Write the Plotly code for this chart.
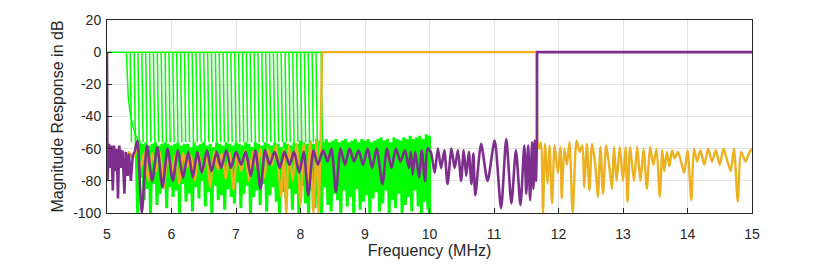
import numpy as np
import plotly.graph_objects as go

# ---------------- data ----------------
x_ticks = [5, 6, 7, 8, 9, 10, 11, 12, 13, 14, 15]
y_ticks = [-100, -80, -60, -40, -20, 0, 20]

# green filter bank: cutoff frequencies (MHz)
green_cutoffs = [5.30, 5.36, 5.42, 5.48, 5.54, 5.60, 5.66, 5.72, 5.78, 5.84,
                 5.90, 5.96, 6.02, 6.08, 6.14, 6.20, 6.26, 6.32, 6.38, 6.44,
                 6.50, 6.56, 6.62, 6.68, 6.74, 6.80, 6.86, 6.92, 6.98, 7.04,
                 7.10, 7.16, 7.22, 7.28, 7.34, 7.40, 7.46, 7.52, 7.58, 7.64,
                 7.70, 7.76, 7.82, 7.88, 7.94, 8.00, 8.06, 8.12, 8.18, 8.24, 8.32]
# first filter's transition tail
green_tail_f = [5.30, 5.31, 5.33, 5.36, 5.40, 5.44, 5.49]
green_tail_db = [0, -15, -28, -38, -46, -51, -56]

# green stop band: upper samples (5.45..10.0 step 0.05) and lower samples in between
green_sb_start, green_sb_stop = 5.45, 10.0
green_top_db = [-56, -55, -57, -56, -58, -57, -56, -58, -57, -56, -57, -58,
                -57, -56, -58, -57, -57, -59, -56, -58, -57, -56, -58, -57, -59, -56, -57, -58, -56, -57, -58, -56,
                -57, -58, -56, -57, -59, -56, -57, -58, -56, -57, -58, -56, -57, -59, -56, -57, -58, -56, -57, -55,
                -56, -57, -55, -57, -54, -55, -56, -54, -56, -55, -54, -56, -55, -54, -56, -55, -54, -56, -54, -55,
                -54, -56, -55, -54, -53, -55, -54, -56, -53, -54, -55, -53, -54, -52, -54, -53, -52, -54, -51, -52]
green_bot_db = [-100, -78, -92, -85, -100, -82, -95, -88, -80, -97, -84, -90,
                -86, -100, -82, -93, -88, -99, -84, -91, -80, -96, -87, -100, -83, -92, -89, -98, -85, -90, -94, -81,
                -97, -88, -83, -100, -90, -86, -95, -82, -99, -89, -84, -93, -100, -87, -91, -85, -98, -88, -100, -83,
                -94, -100, -86, -97, -90, -100, -84, -95, -99, -88, -92, -100, -86, -96, -90, -100, -85, -98, -93, -89,
                -100, -91, -87, -99, -94, -86, -100, -92, -97, -88, -100, -95, -90, -99, -86, -96, -100, -93, -98]

# orange (band-pass 8.33..11.67 MHz)
orange_lo_f = [5.00, 5.05, 5.10, 5.16, 5.22, 5.28, 5.34, 5.40, 5.46, 5.52, 5.58, 5.64, 5.70, 5.76,
               5.82, 5.88, 5.94, 6.00, 6.06, 6.12, 6.18, 6.24, 6.30, 6.36, 6.42, 6.48, 6.54, 6.60,
               6.66, 6.72, 6.78, 6.84, 6.90, 6.96, 7.02, 7.08, 7.14, 7.20, 7.26, 7.32, 7.38, 7.44,
               7.50, 7.56, 7.62, 7.70, 7.74, 7.78, 7.82, 7.88, 7.94, 8.00, 8.05, 8.10, 8.15, 8.20,
               8.25, 8.28, 8.31]
orange_lo_db = [-62, -66, -60, -68, -61, -70, -62, -66, -60, -72, -62, -80, -63, -74,
                -62, -85, -63, -76, -64, -82, -63, -72, -64, -80, -63, -75, -64, -84,
                -62, -73, -63, -79, -62, -86, -63, -74, -61, -80, -62, -72, -60, -78,
                -60, -70, -58, -90, -60, -100, -58, -80, -57, -95, -57, -85, -56, -100,
                -55, -100, -56]
orange_pass_f = [8.31, 8.335, 11.66, 11.67]
orange_pass_db = [-56, 0, 0, -55]
orange_hi_f = [11.67, 11.70, 11.73, 11.76, 11.79, 11.83, 11.86, 11.90, 11.94, 11.99, 12.03, 12.05,
               12.09, 12.13, 12.17, 12.22, 12.28, 12.33, 12.37, 12.40, 12.44, 12.48, 12.52, 12.57,
               12.61, 12.65, 12.69, 12.74, 12.79, 12.83, 12.86, 12.90, 12.95, 13.00, 13.04, 13.07,
               13.11, 13.17, 13.22, 13.27, 13.32, 13.37, 13.42, 13.47, 13.52, 13.57, 13.61, 13.64,
               13.68, 13.72, 13.76, 13.80, 13.85, 13.90, 13.95, 14.00, 14.06, 14.10, 14.15, 14.20,
               14.26, 14.32, 14.38, 14.44, 14.50, 14.56, 14.62, 14.67, 14.72, 14.78, 14.83, 14.90,
               14.95, 15.00]
orange_hi_db = [-55, -60, -56, -100, -57, -82, -58, -94, -58, -75, -59, -91,
                -60, -70, -56, -100, -55, -62, -58, -84, -57, -86, -57, -70,
                -90, -59, -88, -58, -72, -85, -59, -80, -59, -80, -59, -93,
                -59, -80, -59, -80, -60, -85, -59, -70, -60, -90, -61, -74,
                -62, -71, -61, -66, -62, -68, -75, -61, -92, -60, -68, -61,
                -70, -60, -68, -61, -70, -60, -68, -74, -60, -93, -62, -68,
                -63, -60]

# purple (high-pass from 11.67 MHz)
purple_edge_f = [5.000, 5.008, 5.03, 5.05, 5.07, 5.09, 5.11, 5.13, 5.15, 5.17, 5.19, 5.22, 5.24,
                 5.27, 5.29, 5.32, 5.34, 5.37, 5.40, 5.43]
purple_edge_db = [0, -80, -57, -72, -58, -86, -58, -74, -60, -91, -58, -72, -61,
                  -88, -62, -77, -63, -80, -64, -62]
purple_sb_f = [5.43, 5.47, 5.54, 5.62, 5.70, 5.78, 5.86, 5.94, 6.02, 6.10, 6.18, 6.26, 6.33, 6.40,
               6.47, 6.55, 6.62, 6.70, 6.77, 6.85, 6.92, 7.00, 7.08, 7.15, 7.23, 7.30, 7.38, 7.45,
               7.52, 7.60, 7.68, 7.75, 7.83, 7.90, 7.98, 8.05, 8.12, 8.20, 8.27, 8.35, 8.42, 8.48,
               8.55, 8.62, 8.69, 8.76, 8.83, 8.90, 8.97, 9.04, 9.11, 9.18, 9.27, 9.34, 9.41, 9.48,
               9.55, 9.62, 9.68, 9.71, 9.74, 9.78, 9.84, 9.88, 9.93, 9.97, 10.02, 10.08, 10.13,
               10.18, 10.23, 10.28, 10.34, 10.39, 10.44, 10.49, 10.53, 10.57, 10.61, 10.65, 10.68,
               10.71, 10.80, 10.90, 11.01, 11.11, 11.19, 11.27, 11.34, 11.41, 11.47, 11.50, 11.53,
               11.56, 11.59, 11.61, 11.63, 11.65, 11.665]
purple_sb_db = [-62, -55, -100, -58, -80, -59, -84, -60, -80, -61, -78, -62, -78, -62,
                -75, -61, -74, -62, -72, -61, -72, -62, -70, -62, -77, -61, -85, -61,
                -70, -62, -72, -62, -70, -62, -75, -62, -89, -61, -70, -61, -68, -60,
                -87, -60, -70, -60, -68, -61, -70, -60, -72, -60, -82, -60, -72, -60,
                -68, -61, -72, -62, -76, -62, -78, -61, -80, -60, -62, -75, -60,
                -72, -61, -82, -60, -72, -61, -80, -61, -77, -62, -82, -63,
                -89, -57, -80, -55, -97, -54, -94, -61, -95, -58, -88, -58,
                -92, -56, -85, -55, -80, -54]
purple_pass_f = [11.665, 11.668, 15.0]
purple_pass_db = [-54, 0, 0]

# ---------------- build traces ----------------
GREEN = "#00FF00"
ORANGE = "#EDB120"
PURPLE = "#7E2F8E"

# green passband lines
gx, gy = [5.0, green_cutoffs[-1]], [0, 0]
gx += [None] + green_tail_f
gy += [None] + green_tail_db
for c in green_cutoffs[1:]:
    gx += [None, c, c + 0.006, c + 0.02]
    gy += [None, 0, -40, -56]

# green stopband zig-zag (upper and lower samples interleaved)
n_top = len(green_top_db)
top_f = np.linspace(green_sb_start, green_sb_stop, n_top)
bot_f = top_f[:-1] + (top_f[1] - top_f[0]) / 2
sbx, sby = [], []
for i in range(n_top):
    sbx.append(float(top_f[i])); sby.append(green_top_db[i])
    if i < len(green_bot_db):
        sbx.append(float(bot_f[i])); sby.append(green_bot_db[i])
sbx.append(green_sb_stop); sby.append(-100)

fig = go.Figure()
fig.add_trace(go.Scatter(x=sbx, y=sby, mode="lines",
                         line=dict(color=GREEN, width=3), hoverinfo="skip"))
fig.add_trace(go.Scatter(x=gx, y=gy, mode="lines",
                         line=dict(color=GREEN, width=1.5), hoverinfo="skip"))

fig.add_trace(go.Scatter(x=orange_lo_f, y=orange_lo_db, mode="lines",
                         line=dict(color=ORANGE, width=2.4, shape="spline", smoothing=0.7)))
fig.add_trace(go.Scatter(x=orange_pass_f, y=orange_pass_db, mode="lines",
                         line=dict(color=ORANGE, width=2.4)))
fig.add_trace(go.Scatter(x=orange_hi_f, y=orange_hi_db, mode="lines",
                         line=dict(color=ORANGE, width=2.4, shape="spline", smoothing=0.7)))

fig.add_trace(go.Scatter(x=purple_edge_f, y=purple_edge_db, mode="lines",
                         line=dict(color=PURPLE, width=2.6)))
fig.add_trace(go.Scatter(x=purple_sb_f, y=purple_sb_db, mode="lines",
                         line=dict(color=PURPLE, width=2.6, shape="spline", smoothing=0.7)))
fig.add_trace(go.Scatter(x=purple_pass_f, y=purple_pass_db, mode="lines",
                         line=dict(color=PURPLE, width=2.6)))

axis_common = dict(showline=True, mirror=True, linecolor="#262626", linewidth=1,
                   ticks="inside", ticklen=5, tickcolor="#262626",
                   showgrid=True, gridcolor="#E3E3E3", gridwidth=1, zeroline=False,
                   automargin=False,
                   tickfont=dict(size=14, color="#262626"))

# the page adds an 8 px body margin, so margins are shifted to compensate
fig.update_layout(
    width=832, height=264,
    margin=dict(l=99, r=88, t=12, b=59),
    paper_bgcolor="white", plot_bgcolor="white",
    showlegend=False,
    font=dict(family="Arial, 'Liberation Sans', sans-serif", size=14, color="#262626"),
    xaxis=dict(range=[5, 15], tickvals=x_ticks, ticktext=[str(v) for v in x_ticks],
               title=dict(text="Frequency (MHz)", font=dict(size=16), standoff=4),
               ticklabelstandoff=8, **axis_common),
    yaxis=dict(range=[-100, 20], tickvals=y_ticks, ticktext=[str(v) for v in y_ticks],
               title=dict(text="Magnitude Response in dB", font=dict(size=16), standoff=5),
               ticklabelstandoff=2, **axis_common),
)

fig.write_html("out.html")
